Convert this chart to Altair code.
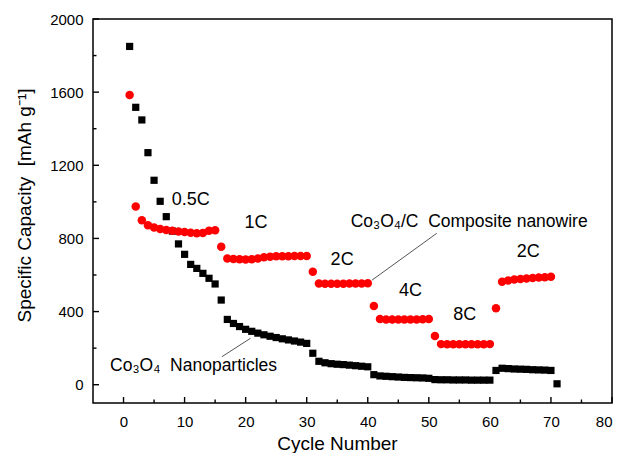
import altair as alt
import pandas as pd

# ---- data ----
np_cycles = list(range(1, 72))
np_capacity = [1850, 1517, 1448, 1269, 1118, 1003, 919, 840, 770, 713,
               658, 636, 609, 582, 551, 463, 357, 335, 318, 303,
               292, 282, 273, 265, 258, 251, 245, 239, 233, 226,
               172, 128, 120, 115, 112, 110, 107, 104, 101, 98,
               55, 48, 46, 44, 42, 40, 39, 38, 37, 35,
               28, 27, 27, 26, 26, 26, 25, 25, 25, 25,
               78, 90, 88, 86, 85, 84, 82, 81, 80, 78,
               5]

nw_cycles = list(range(1, 71))
nw_capacity = [1585, 975, 900, 872, 860, 852, 846, 842, 838, 835,
               831, 828, 830, 842, 845, 755, 690, 688, 686, 685,
               686, 690, 697, 700, 702, 703, 703, 704, 704, 704,
               618, 553, 552, 552, 552, 552, 553, 553, 554, 555,
               430, 360, 357, 356, 356, 356, 356, 357, 358, 360,
               266, 222, 221, 221, 221, 221, 221, 221, 221, 222,
               418, 563, 570, 575, 578, 581, 584, 586, 588, 590]

rate_labels = ["0.5C", "1C", "2C", "4C", "8C", "2C"]
rate_x = [11.0, 21.7, 35.8, 47.0, 55.9, 66.3]
rate_y = [1010, 887, 682, 514, 381, 727]

name_labels = ["Co\u2083O\u2084/C\u00a0\u00a0Composite nanowire", "Co\u2083O\u2084\u00a0\u00a0Nanoparticles"]
name_x = [37.2, -2.2]
name_y = [890, 104]

lead_x = [51.3, 16.1]
lead_y = [828, 153]
lead_x2 = [40.7, 20.8]
lead_y2 = [572, 254]

x_major = [0, 10, 20, 30, 40, 50, 60, 70, 80]
x_minor = [5, 15, 25, 35, 45, 55, 65, 75]
y_major = [0, 400, 800, 1200, 1600, 2000]
y_minor = [200, 600, 1000, 1400, 1800]

FONT = "Liberation Sans"
W, H = 519, 384
MAJOR, MINOR = 6, 3.5

np_df = pd.DataFrame({"cycle": np_cycles, "cap": np_capacity})
nw_df = pd.DataFrame({"cycle": nw_cycles, "cap": nw_capacity})
rate_df = pd.DataFrame({"x": rate_x, "y": rate_y, "t": rate_labels})
name_df = pd.DataFrame({"x": name_x, "y": name_y, "t": name_labels})
lead_df = pd.DataFrame({"x": lead_x, "y": lead_y, "x2": lead_x2, "y2": lead_y2})

xs = alt.Scale(domain=[-5, 80], nice=False, zero=False)
ys = alt.Scale(domain=[-100, 2000], nice=False, zero=False)

x_lab_axis = alt.Axis(values=x_major, format="d", ticks=False, domain=False, grid=False,
                      labelFont=FONT, labelFontSize=15, labelColor="black", labelPadding=11,
                      title="Cycle Number", titleFont=FONT, titleFontSize=19, titleFontWeight="normal",
                      titleColor="black", titleX=244, titleY=40, titleBaseline="middle", titleAlign="center")
y_lab_axis = alt.Axis(values=y_major, format="d", ticks=False, domain=False, grid=False,
                      labelFont=FONT, labelFontSize=15, labelColor="black", labelPadding=10,
                      title="Specific Capacity\u00a0\u00a0[mAh g\u207b\u00b9]", titleFont=FONT, titleFontSize=19,
                      titleFontWeight="normal", titleColor="black", titleX=-69, titleY=186,
                      titleAngle=-90, titleBaseline="middle", titleAlign="center")

squares = alt.Chart(np_df).mark_square(size=52, color="black", opacity=1).encode(
    x=alt.X("cycle:Q", scale=xs, axis=x_lab_axis),
    y=alt.Y("cap:Q", scale=ys, axis=y_lab_axis),
)

circles = alt.Chart(nw_df).mark_circle(size=72, color="#ff0000", opacity=1).encode(
    x=alt.X("cycle:Q", scale=xs),
    y=alt.Y("cap:Q", scale=ys),
)

rates = alt.Chart(rate_df).mark_text(font=FONT, fontSize=18, color="black", align="center",
                                     baseline="middle").encode(
    x=alt.X("x:Q", scale=xs),
    y=alt.Y("y:Q", scale=ys),
    text="t:N",
)

names = alt.Chart(name_df).mark_text(font=FONT, fontSize=17.5, color="black", align="left",
                                     baseline="middle").encode(
    x=alt.X("x:Q", scale=xs),
    y=alt.Y("y:Q", scale=ys),
    text="t:N",
)

leads = alt.Chart(lead_df).mark_rule(color="#555555", strokeWidth=1).encode(
    x=alt.X("x:Q", scale=xs),
    y=alt.Y("y:Q", scale=ys),
    x2="x2:Q",
    y2="y2:Q",
)

# inward ticks on the bottom and left edges, placed through the scales
xmaj = alt.Chart(pd.DataFrame({"tx": x_major})).mark_rule(color="black", strokeWidth=1.4).encode(
    x=alt.X("tx:Q", scale=xs), y=alt.value(H), y2=alt.value(H - MAJOR))
xmin = alt.Chart(pd.DataFrame({"tx": x_minor})).mark_rule(color="black", strokeWidth=1.4).encode(
    x=alt.X("tx:Q", scale=xs), y=alt.value(H), y2=alt.value(H - MINOR))
ymaj = alt.Chart(pd.DataFrame({"ty": y_major})).mark_rule(color="black", strokeWidth=1.4).encode(
    y=alt.Y("ty:Q", scale=ys), x=alt.value(0), x2=alt.value(MAJOR))
ymin = alt.Chart(pd.DataFrame({"ty": y_minor})).mark_rule(color="black", strokeWidth=1.4).encode(
    y=alt.Y("ty:Q", scale=ys), x=alt.value(0), x2=alt.value(MINOR))

chart = alt.layer(xmaj, xmin, ymaj, ymin, squares, circles, leads, rates, names).properties(
    width=W, height=H,
    autosize=alt.AutoSizeParams(type="none"),
    padding={"left": 93, "top": 19, "right": 7, "bottom": 50},
    background="white",
).configure_view(stroke="black", strokeWidth=1.5)

chart.save("out.html", embed_options={"renderer": "svg", "actions": False})
